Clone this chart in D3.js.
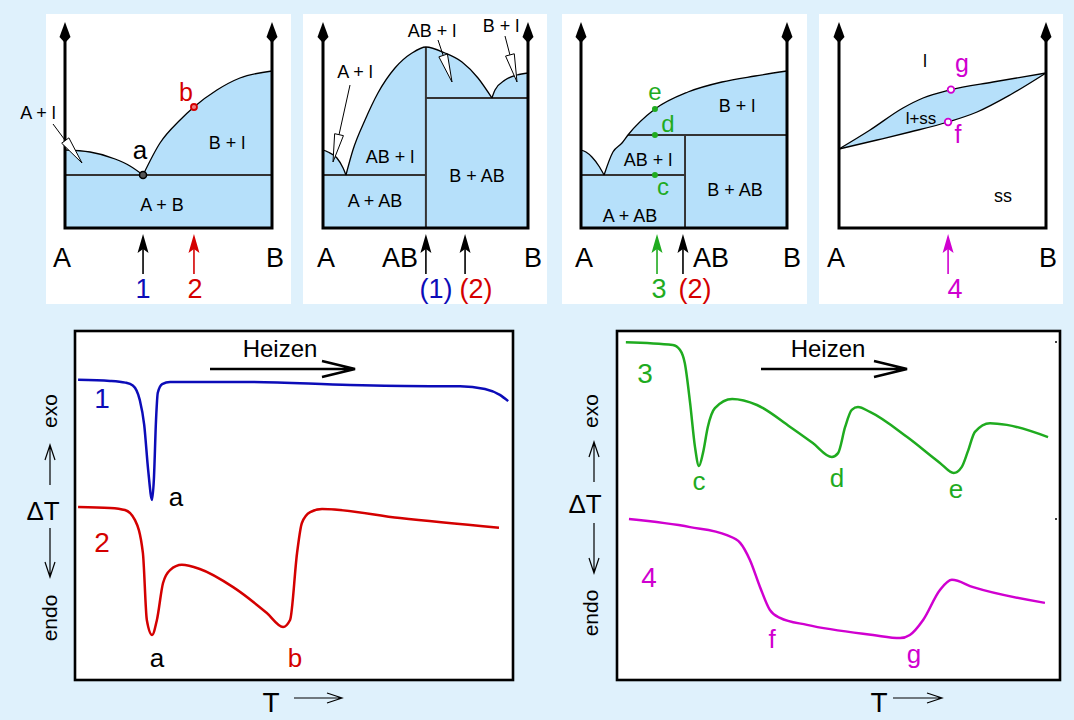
<!DOCTYPE html>
<html><head><meta charset="utf-8">
<script src="https://cdn.jsdelivr.net/npm/d3@7"></script>
<style>
body{margin:0;background:#dff1fc}
svg{display:block;font-family:"Liberation Sans",Arial,Helvetica,sans-serif}
</style>
</head><body><svg id="c" width="1074" height="720"></svg>
<script>
// ---------------- DATA ----------------
// Phase diagram 1: simple eutectic  [composition 0..1 (A..B), temperature 0..100]
const pd1LiqA = [[0,39],[0.121,38],[0.242,34.5],[0.314,31],[0.377,26.5]];
const pd1LiqB = [[0.377,26.5],[0.459,42.5],[0.556,54],[0.623,60.5],[0.734,69],[0.845,75],[1,78.5]];
const pd1Eutectic = 26.5;
const pd1Points = [{c:0.377,t:26.5,kind:"a"},{c:0.623,t:60.5,kind:"b"}];
const pd1Arrows = [{c:0.377,label:"1"},{c:0.623,label:"2"}];

// Phase diagram 2: congruent compound AB
const pd2LiqA = [[0,39],[0.024,38],[0.068,35],[0.098,30],[0.112,26.5]];
const pd2LiqAB = [[0.112,26.5],[0.146,39],[0.205,54],[0.268,67.5],[0.351,80],[0.434,87.5],[0.502,90.5],[0.595,87.5],[0.678,83],[0.756,75],[0.824,65]];
const pd2LiqB = [[0.824,65],[0.839,69],[0.888,74],[0.946,76.5],[1,77.5]];
const pd2Compound = 0.502;
const pd2Eutectics = [26.5, 65];
const pd2Arrows = [{c:0.502,label:"(1)"},{c:0.693,label:"(2)"}];

// Phase diagram 3: incongruent compound AB (peritectic)
const pd3LiqA = [[0,39],[0.024,38],[0.053,35.5],[0.09,30.5],[0.112,26.5]];
const pd3LiqB = [[0.112,26.5],[0.155,38],[0.199,42.5],[0.228,46.5],[0.359,59.5],[0.519,68],[0.684,73],[0.845,76],[1,78.5]];
const pd3Compound = 0.505;
const pd3Eutectic = 26.5;
const pd3Peritectic = {t:46.5, from:0.228};
const pd3Points = [{c:0.359,t:26.5,label:"c"},{c:0.359,t:46.5,label:"d"},{c:0.359,t:59.5,label:"e"}];
const pd3Arrows = [{c:0.369,label:"3"},{c:0.495,label:"(2)"}];

// Phase diagram 4: complete solid solubility
const pd4Liquidus = [[0,39.5],[0.15,49],[0.309,60],[0.406,65],[0.536,69],[0.744,73],[1,77.5]];
const pd4Solidus  = [[0,39.5],[0.184,44],[0.343,48],[0.527,53],[0.667,58],[0.826,66.5],[1,77.5]];
const pd4Points = [{c:0.541,t:69.2,label:"g"},{c:0.527,t:53,label:"f"}];
const pd4Arrows = [{c:0.527,label:"4"}];

// DTA curves  [T 0..100, ΔT 0..100]
const dta1 = [[0.7,86.0],[8,85.7],[11.5,85.2],[13.2,84.4],[14.8,80.2],[15.8,73.1],[16.7,60.2],[17.6,51.6],[18.0,57.3],[18.5,74.5],[18.9,82.3],[19.9,84.8],[21.7,85.4],[40,85.4],[62.8,84.5],[81.1,84.2],[87.9,84.2],[93.6,83.4],[97,81.7],[98.9,79.9]];
const dta2 = [[0.7,49.6],[8,49.3],[11.4,48.7],[13.7,45.8],[15.5,36.4],[16.4,17.2],[17.6,12.9],[18.7,17.2],[20.1,27.8],[21.7,31.5],[24.4,33.0],[28.5,31.8],[36.1,26.6],[43.8,19.2],[47.5,15.2],[49.1,17.2],[50.7,36.4],[51.8,45.0],[53.7,48.1],[56.4,49.0],[74.2,46.4],[96.8,43.6]];
const dta3 = [[2.0,96.8],[12.6,96.0],[14.2,94.6],[15.3,90.8],[16.5,79.4],[17.6,66.8],[18.5,61.3],[19.4,65.0],[20.5,72.5],[22.1,77.9],[26.0,80.5],[31.6,78.8],[39.1,72.5],[44.2,67.9],[48.5,63.9],[49.9,65.0],[51.5,72.5],[53.0,77.4],[54.4,78.2],[57.1,76.8],[65.5,69.6],[72.9,62.2],[76.0,59.3],[77.8,61.0],[79.2,65.5],[80.8,71.1],[84.2,73.6],[88.0,73.1],[97.3,69.6]];
const dta4 = [[2.7,46.1],[16.5,43.8],[24.8,41.5],[27.8,39.3],[30.0,34.4],[32.3,26.6],[34.5,20.1],[36.8,17.8],[42.9,15.8],[57.8,12.9],[63.9,12.0],[66.1,12.9],[69.1,17.2],[72.9,25.8],[75.6,28.7],[80.4,26.6],[96.6,22.1]];

// ---------------- STYLE ----------------
const C = {blue:"#0c0cb8", red:"#d40000", green:"#1fab1f", magenta:"#d000d0",
           fill:"#b6e0fa", bg:"#dff1fc", dark:"#333"};
const FONT = '"Liberation Sans",Arial,Helvetica,sans-serif';

const svg = d3.select("#c");
svg.append("rect").attr("width",1074).attr("height",720).attr("fill",C.bg);

function txt(x,y,s,size,color,anchor){
  return svg.append("text").attr("x",x).attr("y",y).attr("text-anchor",anchor||"middle")
    .attr("font-size",size).attr("fill",color||"#000").attr("font-family",FONT).text(s);
}

// ---------------- TOP: phase diagrams ----------------
const panelRects = [[46,291],[303,547],[562,807],[819,1063]];
panelRects.forEach(p=>svg.append("rect").attr("x",p[0]).attr("y",14).attr("width",p[1]-p[0]).attr("height",290).attr("fill","#fff"));

const yT = d3.scaleLinear().domain([0,100]).range([228,28]);
const xP = [[65,272],[323,528],[581,787],[839,1046]].map(r=>d3.scaleLinear().domain([0,1]).range(r));
const mono = d3.curveMonotoneX;
function seg(x,pts){return d3.line().x(d=>x(d[0])).y(d=>yT(d[1])).curve(mono)(pts);}
function joined(x,segs){return segs.map((s,i)=>{const p=seg(x,s);return i?p.replace(/^M/,"L"):p;}).join("");}
function fillUnder(x,segs){
  const body = joined(x,segs).replace(/^M/,"L");
  return `M${x(0)},${yT(0)}${body}L${x(1)},${yT(0)}Z`;
}
function curveLines(x,segs){
  segs.forEach(s=>svg.append("path").attr("d",seg(x,s)).attr("fill","none").attr("stroke","#000").attr("stroke-width",1.3));
}
function hline(x,t,c0,c1){
  svg.append("line").attr("x1",x(c0)).attr("x2",x(c1)).attr("y1",yT(t)).attr("y2",yT(t))
    .attr("stroke",C.dark).attr("stroke-width",2);
}
function vline(x,c,t){
  svg.append("line").attr("x1",x(c)).attr("x2",x(c)).attr("y1",yT(0)).attr("y2",yT(t))
    .attr("stroke",C.dark).attr("stroke-width",2);
}
function axes(x){
  const L=x(0),R=x(1),B=yT(0);
  svg.append("path").attr("d",`M${L},38V${B}H${R}V38`).attr("fill","none")
    .attr("stroke","#000").attr("stroke-width",3).attr("stroke-linejoin","miter");
  [L,R].forEach(X=>svg.append("path").attr("d",`M${X},22L${X+5.5},37L${X},43L${X-5.5},37Z`).attr("fill","#000"));
}
function compArrows(x,arr,colors){
  arr.forEach((a,i)=>{
    const X=x(a.c), col=colors[i];
    svg.append("line").attr("x1",X).attr("x2",X).attr("y1",274).attr("y2",249).attr("stroke",col).attr("stroke-width",1.6);
    svg.append("path").attr("d",`M${X},234L${X+5.5},253L${X},249L${X-5.5},253Z`).attr("fill",col);
  });
}
function pointer(x1,y1,x2,y2){
  const dx=x2-x1, dy=y2-y1, L=Math.hypot(dx,dy), ux=dx/L, uy=dy/L, px=-uy, py=ux;
  const hl=28, hw=4.5, bx=x2-ux*hl, by=y2-uy*hl;
  svg.append("line").attr("x1",x1).attr("y1",y1).attr("x2",bx).attr("y2",by).attr("stroke","#000").attr("stroke-width",1);
  svg.append("path").attr("d",`M${x2},${y2}L${bx+px*hw},${by+py*hw}L${bx-px*hw},${by-py*hw}Z`)
    .attr("fill","#fff").attr("stroke","#000").attr("stroke-width",1);
}

// Panel 1
{
  const x=xP[0];
  svg.append("path").attr("d",fillUnder(x,[pd1LiqA,pd1LiqB])).attr("fill",C.fill);
  hline(x,pd1Eutectic,0,1);
  curveLines(x,[pd1LiqA,pd1LiqB]);
  axes(x);
  pointer(53,124,82,163);
  txt(38,119,"A + l",18);
  svg.append("circle").attr("cx",x(pd1Points[0].c)).attr("cy",yT(pd1Points[0].t)).attr("r",3.5).attr("fill","#555").attr("stroke","#000").attr("stroke-width",1.5);
  svg.append("circle").attr("cx",x(pd1Points[1].c)).attr("cy",yT(pd1Points[1].t)).attr("r",3).attr("fill","#f08080").attr("stroke",C.red).attr("stroke-width",1.8);
  txt(140,159,"a",26);
  txt(186,101,"b",25,C.red);
  txt(227,149,"B + l",18);
  txt(162,211,"A + B",18);
  txt(62,267,"A",27); txt(275,267,"B",27);
  compArrows(x,pd1Arrows,["#000",C.red]);
  txt(143,298,"1",27,C.blue); txt(195,298,"2",27,C.red);
}
// Panel 2
{
  const x=xP[1];
  svg.append("path").attr("d",fillUnder(x,[pd2LiqA,pd2LiqAB,pd2LiqB])).attr("fill",C.fill);
  hline(x,pd2Eutectics[0],0,pd2Compound);
  hline(x,pd2Eutectics[1],pd2Compound,1);
  vline(x,pd2Compound,90.5);
  curveLines(x,[pd2LiqA,pd2LiqAB,pd2LiqB]);
  axes(x);
  pointer(350,85,333,162);
  pointer(438,40,452,82);
  pointer(505,36,517,82);
  txt(355,78,"A + l",18);
  txt(432,37,"AB + l",18);
  txt(501,32,"B + l",18);
  txt(390,163,"AB + l",18);
  txt(375,207,"A + AB",18);
  txt(477,182,"B + AB",18);
  txt(326,267,"A",27); txt(400,267,"AB",27); txt(533,267,"B",27);
  compArrows(x,pd2Arrows,["#000","#000"]);
  txt(436,298,"(1)",27,C.blue); txt(476,298,"(2)",27,C.red);
}
// Panel 3
{
  const x=xP[2];
  svg.append("path").attr("d",fillUnder(x,[pd3LiqA,pd3LiqB])).attr("fill",C.fill);
  hline(x,pd3Eutectic,0,pd3Compound);
  hline(x,pd3Peritectic.t,pd3Peritectic.from,1);
  vline(x,pd3Compound,pd3Peritectic.t);
  curveLines(x,[pd3LiqA,pd3LiqB]);
  axes(x);
  pd3Points.forEach(p=>svg.append("circle").attr("cx",x(p.c)).attr("cy",yT(p.t)).attr("r",3).attr("fill",C.green));
  txt(655,100,"e",24,C.green);
  txt(668,132,"d",24,C.green);
  txt(663,195,"c",24,C.green);
  txt(737,112,"B + l",18);
  txt(648,166,"AB + l",18);
  txt(735,196,"B + AB",18);
  txt(630,222,"A + AB",18);
  txt(584,267,"A",27); txt(711,267,"AB",27); txt(792,267,"B",27);
  compArrows(x,pd3Arrows,[C.green,"#000"]);
  txt(659,298,"3",27,C.green); txt(695,298,"(2)",27,C.red);
}
// Panel 4
{
  const x=xP[3];
  const lens = seg(x,pd4Liquidus) + seg(x,pd4Solidus.slice().reverse()).replace(/^M/,"L") + "Z";
  svg.append("path").attr("d",lens).attr("fill",C.fill);
  curveLines(x,[pd4Liquidus,pd4Solidus]);
  axes(x);
  pd4Points.forEach(p=>svg.append("circle").attr("cx",x(p.c)).attr("cy",yT(p.t)).attr("r",3.3).attr("fill","#fff").attr("stroke",C.magenta).attr("stroke-width",1.8));
  txt(925,67,"l",18);
  txt(962,72,"g",25,C.magenta);
  txt(921,124,"l+ss",17);
  txt(958,143,"f",25,C.magenta);
  txt(1003,202,"ss",18);
  txt(836,267,"A",27); txt(1048,267,"B",27);
  compArrows(x,pd4Arrows,[C.magenta]);
  txt(955,298,"4",27,C.magenta);
}

// ---------------- BOTTOM: DTA curves ----------------
const yD = d3.scaleLinear().domain([0,100]).range([680,331]);
const boxes = [[75,513],[617,1060]];
const xD = boxes.map(b=>d3.scaleLinear().domain([0,100]).range(b));
boxes.forEach(b=>svg.append("rect").attr("x",b[0]).attr("y",331).attr("width",b[1]-b[0]).attr("height",349)
  .attr("fill","#fff").attr("stroke","#000").attr("stroke-width",2.6));

function dta(x,pts,col){
  svg.append("path").attr("d",d3.line().x(d=>x(d[0])).y(d=>yD(d[1])).curve(mono)(pts))
    .attr("fill","none").attr("stroke",col).attr("stroke-width",2.5);
}
dta(xD[0],dta1,C.blue);
dta(xD[0],dta2,C.red);
dta(xD[1],dta3,C.green);
dta(xD[1],dta4,C.magenta);

function openArrow(x1,y1,x2,y2,hl,hw,w){
  const dx=x2-x1, dy=y2-y1, L=Math.hypot(dx,dy), ux=dx/L, uy=dy/L, px=-uy, py=ux;
  const bx=x2-ux*hl, by=y2-uy*hl;
  svg.append("path").attr("d",`M${x1},${y1}L${x2},${y2}M${bx+px*hw},${by+py*hw}L${x2},${y2}L${bx-px*hw},${by-py*hw}`)
    .attr("fill","none").attr("stroke","#000").attr("stroke-width",w);
}
// left box annotations
txt(280,357,"Heizen",24);
openArrow(210,369,355,369,33,8,2.5);
txt(102,408,"1",28,C.blue);
txt(102,552,"2",28,C.red);
txt(176,506,"a",26);
txt(157,667,"a",26);
txt(295,667,"b",26,C.red);
// right box annotations
txt(828,357,"Heizen",24);
openArrow(761,369,907,369,33,8,2.5);
txt(645,383,"3",28,C.green);
txt(649,587,"4",28,C.magenta);
txt(699,490,"c",26,C.green);
txt(837,487,"d",26,C.green);
txt(956,498,"e",26,C.green);
txt(772,648,"f",26,C.magenta);
txt(914,663,"g",26,C.magenta);
svg.append("circle").attr("cx",1056).attr("cy",342).attr("r",1).attr("fill","#000");
svg.append("circle").attr("cx",1056).attr("cy",519).attr("r",1).attr("fill","#000");

// axis labels for both boxes
[{cx:43,base:520,rx:57,ax:50,up:[485,445],dn:[528,577],exo:411,endo:618,T:271,ta:[294,342]},
 {cx:585,base:513,rx:598,ax:594,up:[482,442],dn:[523,573],exo:411,endo:613,T:879,ta:[893,942]}].forEach(o=>{
  txt(o.cx,o.base,"\u0394T",26);
  svg.append("text").attr("transform",`translate(${o.rx},${o.exo}) rotate(-90)`).attr("text-anchor","middle")
    .attr("font-size",21).attr("font-family",FONT).text("exo");
  svg.append("text").attr("transform",`translate(${o.rx},${o.endo}) rotate(-90)`).attr("text-anchor","middle")
    .attr("font-size",21).attr("font-family",FONT).text("endo");
  openArrow(o.ax,o.up[0],o.ax,o.up[1],15,5,1.2);
  openArrow(o.ax,o.dn[0],o.ax,o.dn[1],15,5,1.2);
  txt(o.T,712,"T",28);
  openArrow(o.ta[0],698,o.ta[1],698,15,5,1.2);
});
</script></body></html>
